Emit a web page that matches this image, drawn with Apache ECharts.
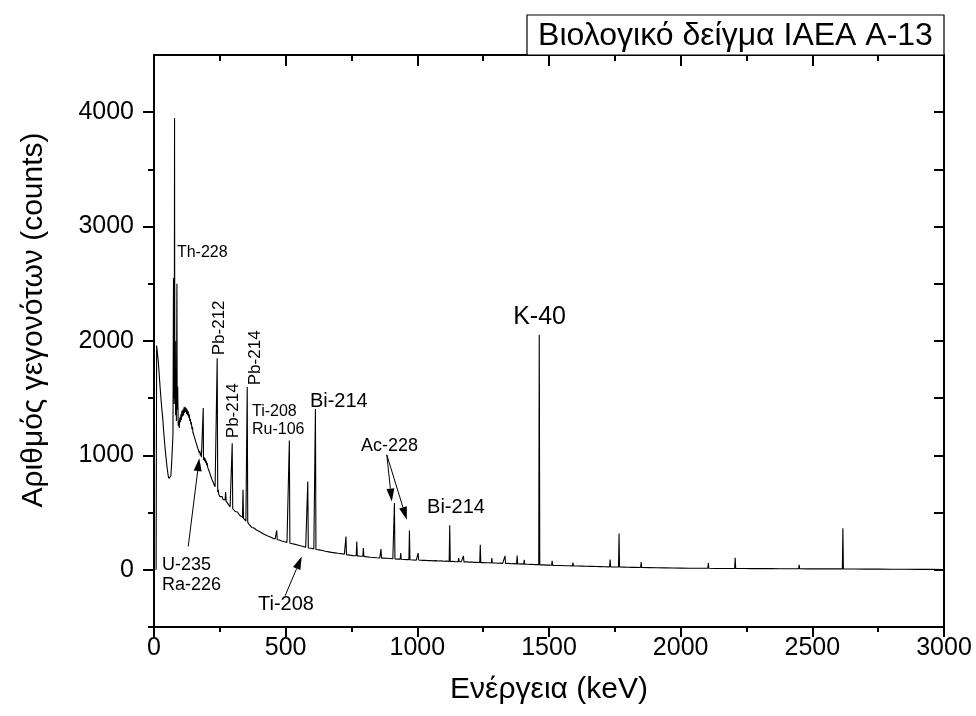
<!DOCTYPE html>
<html>
<head>
<meta charset="utf-8">
<script src="https://cdn.jsdelivr.net/npm/echarts@6/dist/echarts.min.js"></script>
<style>html,body{margin:0;padding:0;background:#fff}#c{width:976px;height:716px}</style>
</head>
<body>
<div id="c"></div>
<script>
// ---------------- DATA ----------------
const xTicks = [0, 500, 1000, 1500, 2000, 2500, 3000];
const yTickLabels = [0, 1000, 2000, 3000, 4000];
const yMinorTicks = [-500, 500, 1500, 2500, 3500];

// Gamma spectrum: [energy keV, counts]
const spectrum = [
[8,0],[10,1960],[13,1950],[16,1830],[20,1700],[23,1600],[27,1480],[30,1400],[33,1330],[37,1200],[40,1120],[43,1040],[47,950],[50,890],[54,820],[57,800],[61,785],[64,820],[67,930],[70,1080],[72,1180],
[74,2550],[75,1500],[76,2200],[77,1450],[78,3950],[79,1500],[81,2000],[82,1350],[84,1700],[85,1300],[87,2500],[88,1400],[90,1600],[92,1260],
[94,1300],[96,1240],[98,1330],[100,1290],[102,1360],[104,1310],[106,1390],[108,1340],[110,1400],[112,1350],[114,1420],[116,1370],[118,1425],[120,1380],[122,1415],[124,1360],[126,1400],[128,1350],[130,1385],[132,1330],[134,1360],[136,1300],[138,1320],[140,1270],[142,1290],[144,1230],[146,1250],[148,1200],[150,1215],[152,1170],[154,1180],[156,1140],[158,1150],[160,1110],[162,1125],[164,1080],[166,1095],[168,1050],[170,1065],[172,1020],[174,1040],[176,1000],[178,1020],[180,985],[182,1000],[184,970],[186,990],[187,1415],[188,960],[190,985],[192,950],[194,975],[196,935],[198,955],[200,915],[202,935],[204,895],[206,910],[208,870],[210,885],[212,845],[214,860],[216,815],[218,830],[220,790],[222,805],[224,770],[226,780],[228,745],[230,760],[232,725],[234,740],[236,710],[238,725],
[240,1850],[242,680],[244,700],[246,660],[248,670],[250,640],[253,655],[256,630],[259,640],[262,615],[265,625],[268,600],[270,610],[272,680],[274,600],[277,590],[280,595],[283,570],[286,575],[289,550],[292,555],[295,540],
[297,1107],[299,535],[302,525],[305,530],[308,510],[311,515],[314,500],[317,505],[320,490],[323,495],[326,475],[329,480],[332,465],[336,458],[338,699],[340,450],[343,445],[346,440],[349,425],[352,420],
[354,1597],[356,415],[359,405],[362,395],[365,385],[368,390],[371,370],[374,375],[377,360],[380,365],[384,350],[388,350],[392,335],[396,340],[400,325],[404,330],[408,315],[412,318],[416,305],[420,308],[425,295],[430,297],[435,285],[440,288],[445,275],[450,277],[455,268],[460,270],[464,266],
[466,344],[468,262],[472,258],[476,260],[480,250],[485,252],[490,243],[495,245],[500,238],[505,240],[509,234],[512,233],
[514,1130],[516,232],[521,226],[526,228],[531,220],[536,222],[541,214],[546,216],[551,208],[556,210],[561,202],[566,204],[571,196],[576,198],[582,192],
[584,772],[586,190],[592,186],[597,188],[602,180],[607,182],[611,180],
[613,1405],[615,177],[621,172],[627,174],[633,166],[639,168],[645,160],[651,162],[657,155],[663,157],[669,150],[675,152],[681,146],[687,148],[693,142],[699,144],[705,139],[711,141],[717,136],[723,137],[727,135],
[729,291],[731,133],[738,133],[744,128],[750,130],[756,124],[762,126],[768,123],
[770,248],[772,122],[779,122],[785,118],[790,120],[793,118],
[795,190],[797,117],[804,117],[810,113],[816,115],[822,110],[828,112],[834,108],[840,110],[846,105],[852,107],[857,103],[860,103],
[862,181],[864,102],[872,103],[878,99],[884,101],[890,97],[896,99],[902,95],[907,97],[911,96],
[913,583],[915,95],[921,96],[926,93],[931,94],[935,93],
[937,146],[939,92],[945,94],[950,90],[955,92],[960,89],[964,90],[968,89],
[970,344],[972,88],[978,89],[984,86],[990,88],[996,85],[1001,86],
[1003,146],[1005,85],[1012,85],[1020,82],[1030,83],[1040,80],[1050,81],[1060,78],[1070,80],[1080,77],[1090,78],[1100,75],[1110,76],[1121,74],
[1123,390],[1125,73],[1135,74],[1143,71],[1150,72],[1155,71],
[1157,102],[1159,70],[1167,71],[1173,70],
[1175,122],[1177,69],[1187,70],[1195,67],[1205,68],[1215,65],[1225,66],[1237,64],
[1239,218],[1241,63],[1252,64],[1262,61],[1272,62],[1281,60],
[1283,102],[1285,59],[1296,60],[1305,57],[1315,58],[1324,56],[1331,56],
[1333,122],[1335,55],[1346,56],[1356,53],[1366,54],[1377,52],
[1379,125],[1381,51],[1392,52],[1404,50],
[1406,87],[1408,49],[1420,49],[1430,47],[1440,47],[1450,45],[1461,45],
[1463,2054],[1465,43],[1478,43],[1490,41],[1500,41],[1510,40],
[1512,79],[1514,39],[1530,38],[1545,37],[1560,36],[1575,35],[1589,34],
[1591,64],[1593,34],[1610,33],[1625,32],[1640,31],[1660,30],
[1662,41],[1664,30],[1680,29],[1695,28],[1710,27],[1730,26],
[1732,90],[1734,26],[1750,25],[1764,25],
[1766,318],[1768,24],[1785,23],[1800,22],[1815,21],[1830,21],[1848,20],
[1850,67],[1852,20],[1880,19],[1910,18],[1940,17],[1970,16],[2000,15],[2030,14],[2060,14],[2090,13],[2103,13],
[2105,58],[2107,13],[2130,12],[2160,12],[2190,12],[2205,11],
[2207,105],[2209,11],[2240,11],[2270,10],[2300,10],[2340,10],[2380,9],[2420,9],[2448,9],
[2450,44],[2452,9],[2490,8],[2530,8],[2570,8],[2614,8],
[2616,364],[2618,7],[2660,7],[2700,6],[2750,6],[2800,5],[2850,5],[2900,4],[2950,4],[3000,3]
];

// Peak labels: text and anchor in data coordinates [keV, counts]
const peakLabelText = ['Th-228','Pb-212','Pb-214','Pb-214','Ti-208','Ru-106','Bi-214','Ac-228','Bi-214','K-40','U-235','Ra-226','Ti-208'];
const peakLabelAt = [[87,2770],[249,2115],[300,1390],[385,1853],[372,1381],[372,1223],[592,1468],[786,1079],[1037,542],[1364,2211],[30,44],[30,-135],[395,-301]];
// Arrows: [from, to] in data coordinates
const arrowsAt = [
  [[130,204],[172,976]],
  [[498,-227],[561,116]],
  [[884,1005],[903,597]],
  [[884,1005],[960,437]]
];
const titleText = 'Βιολογικό δείγμα IAEA A-13';
const xName = 'Ενέργεια (keV)';
const yName = 'Αριθμός γεγονότων (counts)';

// ---------------- STYLE ----------------
const FONT = '"Liberation Sans", Arial, Helvetica, sans-serif';
const labelStyle = [
  {size:16, rot:0},{size:17, rot:1},{size:17, rot:1},{size:17, rot:1},
  {size:16, rot:0},{size:16, rot:0},{size:20, rot:0},{size:18, rot:0},
  {size:20, rot:0},{size:25, rot:0},{size:18, rot:0},{size:18, rot:0},{size:20, rot:0}
];

const chart = echarts.init(document.getElementById('c'), null, {renderer:'canvas'});
const axisLineStyle = {show:true, onZero:false, lineStyle:{color:'#000', width:2}};
const tickStyle = {color:'#000', width:2};
const plain = v => String(v);

const option = {
  animation:false,
  backgroundColor:'#fff',
  grid:{left:154, right:32, top:55, bottom:89, containLabel:false},
  xAxis:[
    {type:'value', position:'bottom', min:0, max:3000, interval:500,
     axisLine:axisLineStyle,
     axisTick:{show:true, inside:false, length:10, lineStyle:tickStyle},
     minorTick:{show:true, splitNumber:2, length:5, lineStyle:tickStyle},
     axisLabel:{show:true, color:'#000', fontSize:25, fontFamily:FONT, margin:9,
       customValues:xTicks, formatter:plain},
     splitLine:{show:false}, minorSplitLine:{show:false}},
    {type:'value', position:'top', min:0, max:3000, interval:500,
     axisLine:axisLineStyle,
     axisTick:{show:true, inside:true, length:11, lineStyle:tickStyle},
     minorTick:{show:true, splitNumber:2, length:6, lineStyle:tickStyle},
     axisLabel:{show:false}, splitLine:{show:false}, minorSplitLine:{show:false}}
  ],
  yAxis:[
    {type:'value', position:'left', min:-500, max:4500, interval:500,
     axisLine:axisLineStyle,
     axisTick:{show:true, inside:false, length:11, lineStyle:tickStyle, customValues:yTickLabels},
     axisLabel:{show:true, color:'#000', fontSize:25, fontFamily:FONT, margin:20, customValues:yTickLabels, formatter:plain},
     splitLine:{show:false}},
    {type:'value', position:'left', min:-500, max:4500, interval:500,
     axisLine:{show:false, onZero:false},
     axisTick:{show:true, inside:false, length:6, lineStyle:tickStyle, customValues:yMinorTicks},
     axisLabel:{show:false}, splitLine:{show:false}},
    {type:'value', position:'right', min:-500, max:4500, interval:500,
     axisLine:axisLineStyle,
     axisTick:{show:true, inside:true, length:10, lineStyle:tickStyle},
     axisLabel:{show:false}, splitLine:{show:false}}
  ],
  series:[{
    type:'line', xAxisIndex:0, yAxisIndex:0, data:spectrum,
    showSymbol:false, symbol:'none', clip:true,
    lineStyle:{color:'#000', width:1.1}
  }]
};
chart.setOption(option);

function px(p){ return chart.convertToPixel({xAxisIndex:0, yAxisIndex:0}, p); }
const g = [];
// title box
g.push({type:'rect', shape:{x:527, y:15, width:417, height:40}, style:{fill:'#fff', stroke:'#000', lineWidth:1.2}, z:10});
g.push({type:'text', x:735.5, y:36, z:11, style:{text:titleText, font:'32px '+FONT, fill:'#000', align:'center', verticalAlign:'middle'}});
// axis names
g.push({type:'text', x:549, y:690, style:{text:xName, font:'30px '+FONT, fill:'#000', align:'center', verticalAlign:'middle'}});
g.push({type:'text', x:34, y:320, rotation:Math.PI/2, style:{text:yName, font:'30px '+FONT, fill:'#000', align:'center', verticalAlign:'middle'}});
// peak labels
peakLabelText.forEach((t,i)=>{
  const p = px(peakLabelAt[i]);
  const s = labelStyle[i];
  if (s.rot) {
    g.push({type:'text', x:p[0], y:p[1], rotation:Math.PI/2, style:{text:t, font:s.size+'px '+FONT, fill:'#000', align:'center', verticalAlign:'middle'}});
  } else {
    g.push({type:'text', x:p[0], y:p[1], style:{text:t, font:s.size+'px '+FONT, fill:'#000', align:'left', verticalAlign:'middle'}});
  }
});
// arrows
arrowsAt.forEach(a=>{
  const p0 = px(a[0]), p1 = px(a[1]);
  const dx = p1[0]-p0[0], dy = p1[1]-p0[1], L = Math.hypot(dx,dy);
  const ux = dx/L, uy = dy/L, hl = 13, hw = 4;
  const b = [p1[0]-ux*hl, p1[1]-uy*hl];
  g.push({type:'line', shape:{x1:p0[0], y1:p0[1], x2:b[0], y2:b[1]}, style:{stroke:'#000', lineWidth:1}});
  g.push({type:'polygon', shape:{points:[[p1[0],p1[1]],[b[0]-uy*hw,b[1]+ux*hw],[b[0]+uy*hw,b[1]-ux*hw]]}, style:{fill:'#000'}});
});
chart.setOption({graphic:{elements:g}});
</script>
</body>
</html>
